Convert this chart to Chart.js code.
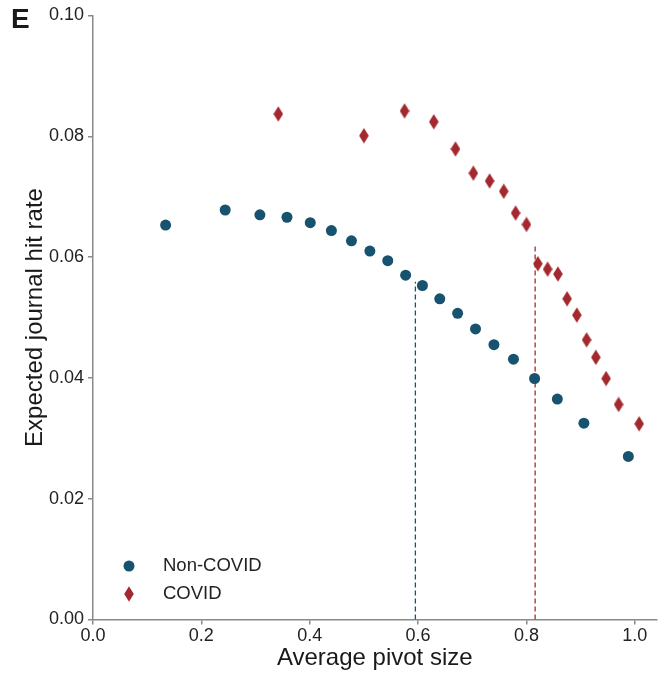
<!DOCTYPE html>
<html>
<head>
<meta charset="utf-8">
<script src="https://cdn.jsdelivr.net/npm/chart.js@4.4.1/dist/chart.umd.min.js"></script>
<style>
  html, body { margin: 0; padding: 0; background: #fff; }
  #wrap { width: 658px; height: 676px; }
</style>
</head>
<body>
<div id="wrap"><canvas id="hitChart" width="658" height="676"></canvas></div>
<script>
// values
var nonCovidX = [0.134, 0.244, 0.308, 0.358, 0.401, 0.440, 0.477, 0.511, 0.544, 0.577, 0.608, 0.640, 0.673, 0.706, 0.740, 0.776, 0.815, 0.857, 0.906, 0.988];
var nonCovidY = [0.0653, 0.0678, 0.0670, 0.0666, 0.0657, 0.0644, 0.0627, 0.0610, 0.0594, 0.0570, 0.0553, 0.0531, 0.0507, 0.0481, 0.0455, 0.0431, 0.0399, 0.0365, 0.0325, 0.0270];
var covidX = [0.342, 0.500, 0.575, 0.629, 0.669, 0.702, 0.732, 0.758, 0.780, 0.800, 0.821, 0.839, 0.858, 0.875, 0.893, 0.911, 0.928, 0.947, 0.970, 1.008];
var covidY = [0.0837, 0.0801, 0.0842, 0.0824, 0.0779, 0.0739, 0.0726, 0.0709, 0.0673, 0.0654, 0.0589, 0.0580, 0.0572, 0.0531, 0.0504, 0.0463, 0.0434, 0.0399, 0.0356, 0.0324];
// vertical reference lines: [x, top y]
var nonCovidCut = [0.595, 0.0559];
var covidCut = [0.816, 0.0620];

var xTicks = [0, 0.2, 0.4, 0.6, 0.8, 1.0];
var blue = '#17526f';
var red = '#a3292e';
var axisGrey = '#8a8a8a';
var fontFam = '"Liberation Sans", Arial, Helvetica, sans-serif';

function toPoints(xs, ys) {
  return xs.map(function (x, i) { return { x: x, y: ys[i] }; });
}

// elongated diamond marker
var diamond = document.createElement('canvas');
diamond.width = 10;
diamond.height = 16;
(function () {
  var c = diamond.getContext('2d');
  c.fillStyle = red;
  c.beginPath();
  c.moveTo(5, 0.3);
  c.lineTo(9.8, 8);
  c.lineTo(5, 15.7);
  c.lineTo(0.2, 8);
  c.closePath();
  c.fill();
})();

var overlay = {
  id: 'overlay',
  afterDraw: function (chart) {
    var ctx = chart.ctx;
    ctx.save();
    ctx.fillStyle = '#1a1a1a';
    ctx.font = 'bold 28px ' + fontFam;
    ctx.textBaseline = 'middle';
    ctx.textAlign = 'left';
    ctx.fillText('E', 11, 20);

    // legend
    ctx.fillStyle = blue;
    ctx.beginPath();
    ctx.arc(129, 566, 5.5, 0, Math.PI * 2);
    ctx.fill();
    ctx.drawImage(diamond, 124, 586);
    ctx.fillStyle = '#222';
    ctx.font = '18.5px ' + fontFam;
    ctx.fillText('Non-COVID', 163, 566);
    ctx.fillText('COVID', 163, 594);
    ctx.restore();
  }
};

var ctx = document.getElementById('hitChart').getContext('2d');
var hitChart = new Chart(ctx, {
  type: 'scatter',
  data: {
    datasets: [
      {
        label: 'Non-COVID',
        data: toPoints(nonCovidX, nonCovidY),
        backgroundColor: blue,
        borderWidth: 0,
        pointRadius: 5.5,
        pointHoverRadius: 5.5,
        order: 1
      },
      {
        label: 'COVID',
        data: toPoints(covidX, covidY),
        pointStyle: diamond,
        backgroundColor: red,
        borderWidth: 0,
        order: 1
      },
      {
        type: 'line',
        label: 'non-covid cut',
        data: [{ x: nonCovidCut[0], y: 0 }, { x: nonCovidCut[0], y: nonCovidCut[1] }],
        borderColor: blue,
        borderWidth: 1.3,
        borderDash: [5, 3],
        pointRadius: 0,
        order: 3
      },
      {
        type: 'line',
        label: 'covid cut',
        data: [{ x: covidCut[0], y: 0 }, { x: covidCut[0], y: covidCut[1] }],
        borderColor: red,
        borderWidth: 1.3,
        borderDash: [5, 3],
        pointRadius: 0,
        order: 3
      }
    ]
  },
  options: {
    responsive: false,
    animation: false,
    layout: { autoPadding: false, padding: { top: 15.5, right: 1.5, left: 0, bottom: 0 } },
    plugins: {
      legend: { display: false },
      tooltip: { enabled: false }
    },
    scales: {
      x: {
        type: 'linear',
        min: 0,
        max: 1.04,
        afterFit: function (s) {
          s.height = 56.5;
          s.paddingLeft = 0;
          s.paddingRight = 0;
        },
        afterBuildTicks: function (s) {
          s.ticks = xTicks.map(function (v) { return { value: v }; });
        },
        ticks: {
          color: '#222',
          font: { family: fontFam, size: 18 },
          padding: 1,
          maxRotation: 0,
          callback: function (v) { return Number(v).toFixed(1); }
        },
        grid: { drawOnChartArea: false, drawTicks: true, tickLength: 5, color: axisGrey, lineWidth: 1.5 },
        border: { display: true, color: axisGrey, width: 1.5 },
        title: {
          display: true,
          text: 'Average pivot size',
          color: '#1a1a1a',
          font: { family: fontFam, size: 24 },
          padding: { top: 0, bottom: 3.6 }
        }
      },
      y: {
        min: 0,
        max: 0.1,
        afterFit: function (s) {
          s.width = 93;
          s.paddingTop = 0;
          s.paddingBottom = 0;
        },
        ticks: {
          stepSize: 0.02,
          color: '#222',
          font: { family: fontFam, size: 18 },
          padding: 4,
          callback: function (v) { return Number(v).toFixed(2); }
        },
        grid: { drawOnChartArea: false, drawTicks: true, tickLength: 5, color: axisGrey, lineWidth: 1.5 },
        border: { display: true, color: axisGrey, width: 1.5 },
        title: {
          display: true,
          text: 'Expected journal hit rate',
          color: '#1a1a1a',
          font: { family: fontFam, size: 24 },
          padding: { top: 21, bottom: 0 }
        }
      }
    }
  },
  plugins: [overlay]
});
</script>
</body>
</html>
